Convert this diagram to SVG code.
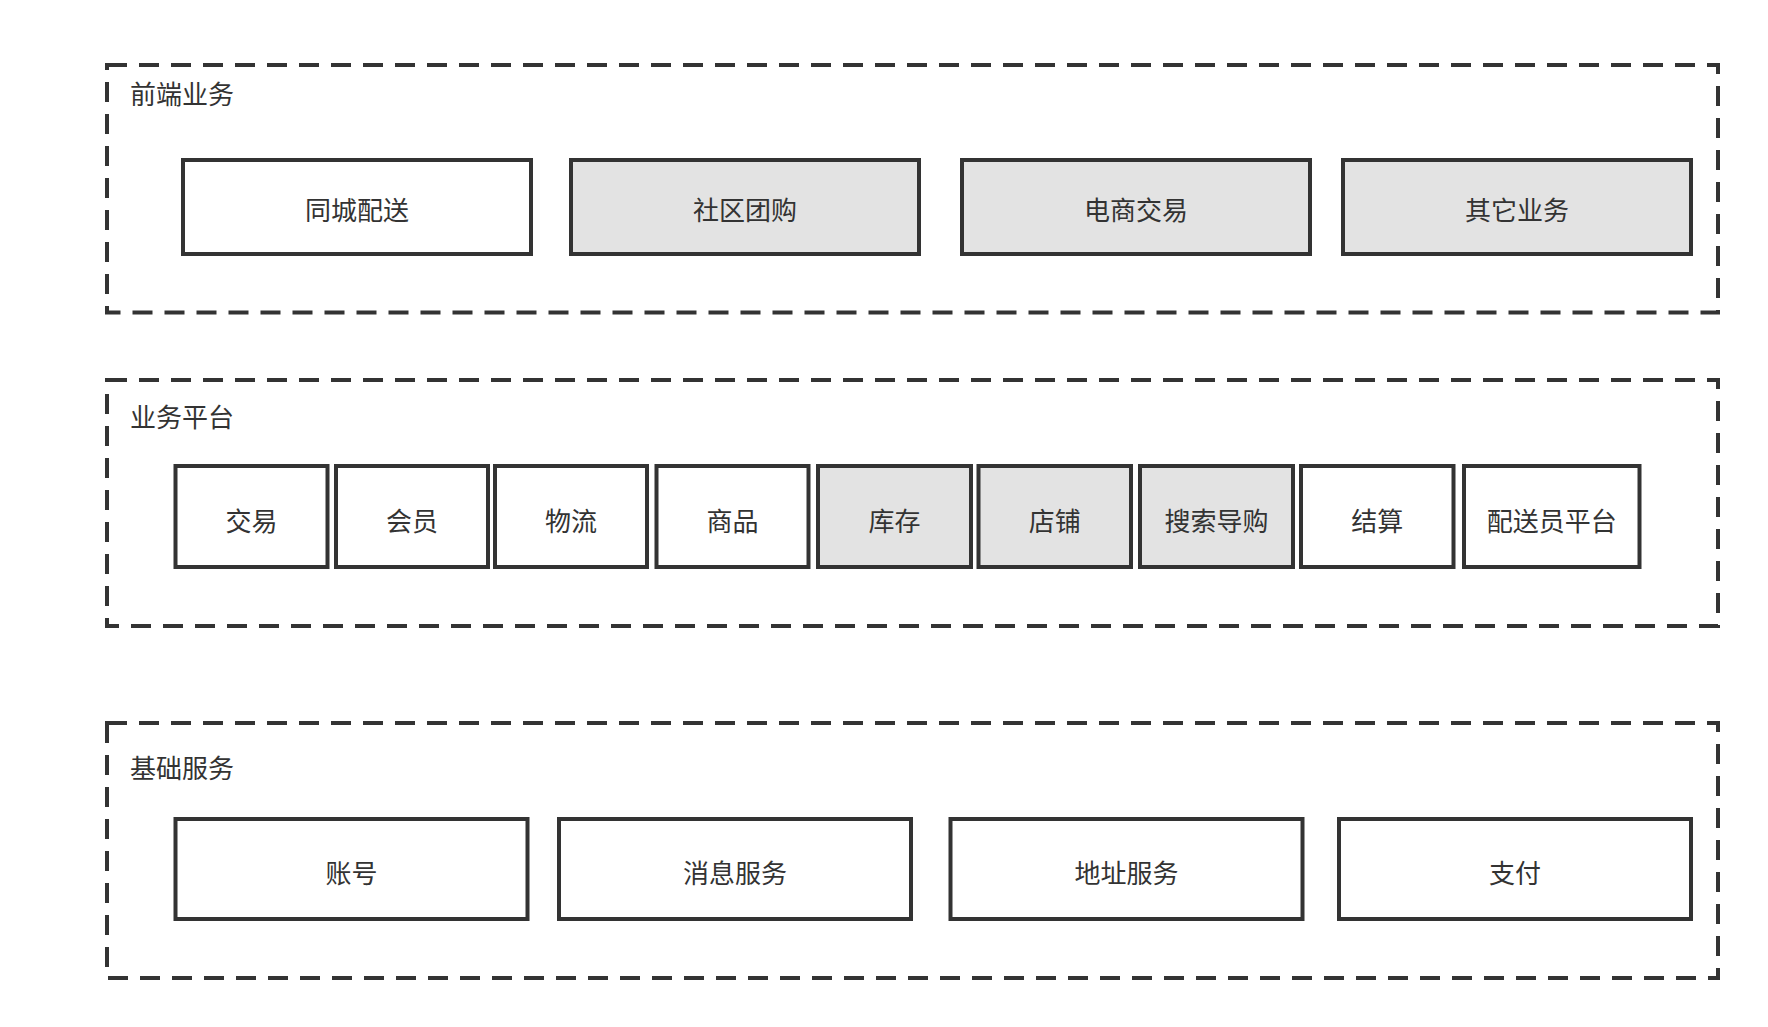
<svg xmlns="http://www.w3.org/2000/svg" width="1768" height="1027" viewBox="0 0 1768 1027">
<style>
  .group { fill: none; stroke: #333333; stroke-width: 4; stroke-dasharray: 20 12; }
  .box { fill: #ffffff; stroke: #333333; stroke-width: 4; }
  .gray { fill: #e3e3e3; }
  .t { font-family: "Noto Sans CJK SC", "Liberation Sans", sans-serif; font-size: 26px; fill: #333333; text-anchor: middle; }
  .lbl { font-family: "Noto Sans CJK SC", "Liberation Sans", sans-serif; font-size: 26px; fill: #333333; }
</style>
<rect width="1768" height="1027" fill="#ffffff"/>

<g id="layer-frontend">
  <rect class="group" x="107" y="65" width="1611" height="247.5"/>
  <text class="lbl" x="130" y="104">前端业务</text>
</g>
<g id="node-tongcheng"><rect class="box" x="183" y="160" width="348" height="94"/><text class="t" x="357" y="220">同城配送</text></g>
<g id="node-shequ"><rect class="box gray" x="571" y="160" width="348" height="94"/><text class="t" x="745" y="220">社区团购</text></g>
<g id="node-dianshang"><rect class="box gray" x="962" y="160" width="348" height="94"/><text class="t" x="1136" y="220">电商交易</text></g>
<g id="node-qita"><rect class="box gray" x="1343" y="160" width="348" height="94"/><text class="t" x="1517" y="220">其它业务</text></g>

<g id="layer-platform">
  <rect class="group" x="107" y="380" width="1611" height="246"/>
  <text class="lbl" x="130" y="426.5">业务平台</text>
</g>
<g id="node-jiaoyi"><rect class="box" x="175.5" y="466" width="152" height="101"/><text class="t" x="251.5" y="531">交易</text></g>
<g id="node-huiyuan"><rect class="box" x="336" y="466" width="152" height="101"/><text class="t" x="412" y="531">会员</text></g>
<g id="node-wuliu"><rect class="box" x="495" y="466" width="152" height="101"/><text class="t" x="571" y="531">物流</text></g>
<g id="node-shangpin"><rect class="box" x="656.5" y="466" width="152" height="101"/><text class="t" x="732.5" y="531">商品</text></g>
<g id="node-kucun"><rect class="box gray" x="818" y="466" width="153" height="101"/><text class="t" x="894.5" y="531">库存</text></g>
<g id="node-dianpu"><rect class="box gray" x="978.5" y="466" width="152.5" height="101"/><text class="t" x="1054.75" y="531">店铺</text></g>
<g id="node-sousuo"><rect class="box gray" x="1140" y="466" width="153" height="101"/><text class="t" x="1216.5" y="531">搜索导购</text></g>
<g id="node-jiesuan"><rect class="box" x="1301" y="466" width="152.5" height="101"/><text class="t" x="1377.25" y="531">结算</text></g>
<g id="node-peisongyuan"><rect class="box" x="1464" y="466" width="175.5" height="101"/><text class="t" x="1551.75" y="531">配送员平台</text></g>

<g id="layer-base">
  <rect class="group" x="107" y="723" width="1611" height="255"/>
  <text class="lbl" x="130" y="777.5">基础服务</text>
</g>
<g id="node-zhanghao"><rect class="box" x="175.5" y="819" width="352" height="100"/><text class="t" x="351.5" y="883">账号</text></g>
<g id="node-xiaoxi"><rect class="box" x="559" y="819" width="352" height="100"/><text class="t" x="735" y="883">消息服务</text></g>
<g id="node-dizhi"><rect class="box" x="950.5" y="819" width="352" height="100"/><text class="t" x="1126.5" y="883">地址服务</text></g>
<g id="node-zhifu"><rect class="box" x="1339" y="819" width="352" height="100"/><text class="t" x="1515" y="883">支付</text></g>

<g id="connectors"></g>
</svg>
